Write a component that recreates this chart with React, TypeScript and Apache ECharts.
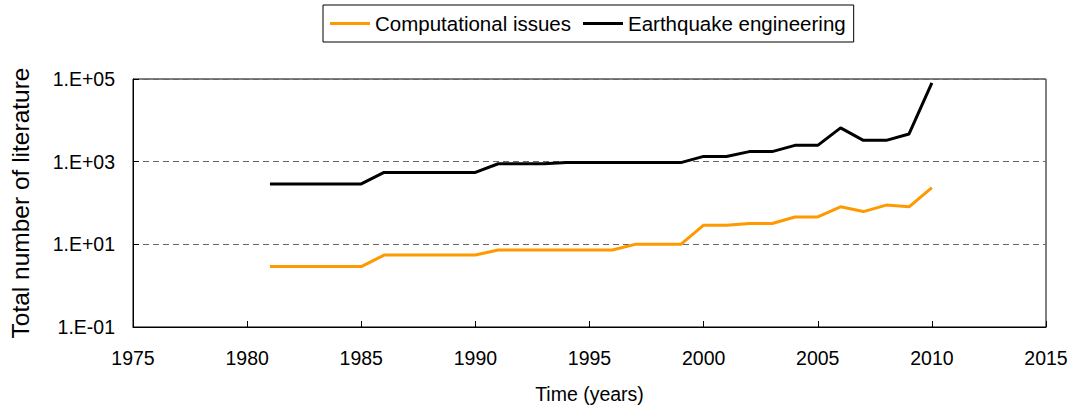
import React, { useEffect, useRef } from "react";
import * as echarts from "echarts";

const years: number[] = [
  1981, 1982, 1983, 1984, 1985, 1986, 1987, 1988, 1989, 1990,
  1991, 1992, 1993, 1994, 1995, 1996, 1997, 1998, 1999, 2000,
  2001, 2002, 2003, 2004, 2005, 2006, 2007, 2008, 2009, 2010,
];

const computationalIssues: number[] = [
  2.9, 2.9, 2.9, 2.9, 2.9, 5.5, 5.5, 5.5, 5.5, 5.5,
  7.3, 7.3, 7.3, 7.3, 7.3, 7.3, 10, 10, 10, 29,
  29, 32, 32, 46, 46, 81, 62, 89, 81, 235,
];

const earthquakeEngineering: number[] = [
  290, 290, 290, 290, 290, 550, 550, 550, 550, 550,
  890, 890, 890, 950, 950, 950, 950, 950, 950, 1340,
  1340, 1750, 1750, 2480, 2480, 6550, 3280, 3280, 4680, 81000,
];

const seriesNames: string[] = ["Computational issues", "Earthquake engineering"];
const seriesColors: string[] = ["#FF9900", "#000000"];

const FONT = "'Liberation Sans', Arial, sans-serif";

function fmtLog(v: number): string {
  const e = Math.round(Math.log10(v));
  return "1.E" + (e < 0 ? "-" : "+") + String(Math.abs(e)).padStart(2, "0");
}

export default function App() {
  const ref = useRef<HTMLDivElement>(null);

  useEffect(() => {
    document.body.style.margin = "0";
    if (!ref.current) return;
    const chart = echarts.init(ref.current, undefined, { renderer: "svg" });
    const seriesData = [computationalIssues, earthquakeEngineering];
    chart.setOption({
      animation: false,
      backgroundColor: "#ffffff",
      textStyle: { fontFamily: FONT },
      legend: {
        left: 323,
        top: 5,
        padding: [8, 8, 8, 7],
        itemGap: 12,
        itemWidth: 40,
        itemHeight: 3,
        icon: "rect",
        borderColor: "#000",
        borderWidth: 1,
        textStyle: { fontSize: 20.5, color: "#000", fontFamily: FONT },
        data: seriesNames,
      },
      grid: {
        left: 128,
        right: 27,
        top: 79,
        bottom: 82,
        show: true,
        borderColor: "#000",
        borderWidth: 1,
        backgroundColor: "transparent",
      },
      xAxis: {
        type: "value",
        min: 1975,
        max: 2015,
        interval: 5,
        name: "Time (years)",
        nameLocation: "middle",
        nameGap: 57,
        nameTextStyle: { fontSize: 19.5, color: "#000", fontFamily: FONT },
        axisLine: { show: true, lineStyle: { color: "#000", width: 1 } },
        axisTick: { show: true, inside: true, length: 6, lineStyle: { color: "#000" } },
        axisLabel: {
          fontSize: 19.5,
          color: "#000",
          margin: 21,
          fontFamily: FONT,
          formatter: (v: number) => String(v),
        },
        splitLine: { show: false },
      },
      yAxis: {
        type: "log",
        logBase: 10,
        min: 0.1,
        max: 100000,
        interval: 2,
        name: "Total number of literature",
        nameLocation: "middle",
        nameGap: 100,
        nameTextStyle: { fontSize: 24.5, color: "#000", fontFamily: FONT, padding: [0, 0, 0, 0] },
        axisLine: { show: true, lineStyle: { color: "#000", width: 1 } },
        axisTick: { show: true, inside: true, length: 6, lineStyle: { color: "#000" } },
        axisLabel: { fontSize: 19.5, color: "#000", margin: 18, fontFamily: FONT, formatter: fmtLog },
        splitLine: { show: true, lineStyle: { color: "#666", type: [6, 4], width: 1 } },
        minorTick: { show: false },
      },
      series: seriesNames.map((name, i) => ({
        name,
        type: "line",
        symbol: "none",
        color: seriesColors[i],
        lineStyle: { color: seriesColors[i], width: 3 },
        data: years.map((y, j) => [y, seriesData[i][j]]),
      })),
    });
    return () => chart.dispose();
  }, []);

  return <div ref={ref} style={{ width: 1073, height: 409 }} />;
}
